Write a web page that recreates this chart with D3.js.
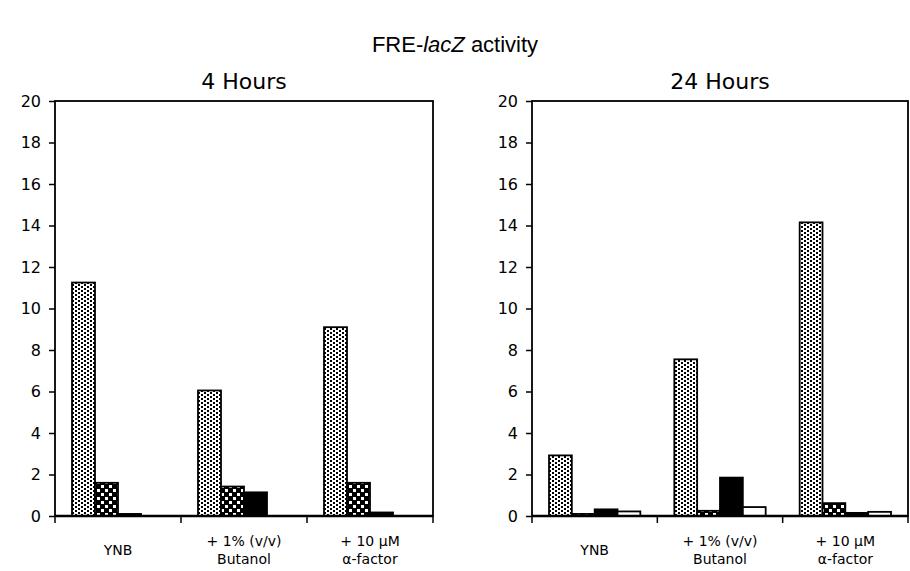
<!DOCTYPE html>
<html lang="en">
<head>
<meta charset="utf-8">
<script src="https://d3js.org/d3.v7.min.js"></script>
<style>
  body { margin: 0; background: #fff; }
  .axis text { font-family: "DejaVu Sans", sans-serif; font-size: 16px; fill: #000; }
  .axis line, .axis path { stroke: #000; stroke-width: 1.5px; }
</style>
</head>
<body>
<svg width="910" height="571"></svg>
<script>
  // data
  var categories = ["YNB", "Butanol", "alpha"];
  var catLabels = [["YNB"], ["+ 1% (v/v)", "Butanol"], ["+ 10 \u03BCM", "\u03B1-factor"]];
  var series = ["s1", "s2", "s3", "s4"];
  var hours4 = [
    [11.25, 1.6, 0.1, 0],
    [6.05, 1.42, 1.14, 0],
    [9.1, 1.6, 0.17, 0]
  ];
  var hours24 = [
    [2.92, 0.1, 0.32, 0.22],
    [7.55, 0.25, 1.85, 0.43],
    [14.15, 0.62, 0.15, 0.2]
  ];
  var yTicks = [0, 2, 4, 6, 8, 10, 12, 14, 16, 18, 20];

  var svg = d3.select("svg");
  var defs = svg.append("defs");

  // fine dots pattern (staggered)
  var p1 = defs.append("pattern").attr("id", "fine")
    .attr("patternUnits", "userSpaceOnUse").attr("width", 6).attr("height", 4);
  p1.append("rect").attr("width", 6).attr("height", 4).attr("fill", "#fff");
  p1.append("rect").attr("x", 0).attr("y", 0).attr("width", 2).attr("height", 2).attr("fill", "#000");
  p1.append("rect").attr("x", 3).attr("y", 2).attr("width", 2).attr("height", 2).attr("fill", "#000");

  // checker pattern
  var p2 = defs.append("pattern").attr("id", "check")
    .attr("patternUnits", "userSpaceOnUse").attr("width", 8).attr("height", 8);
  p2.append("rect").attr("width", 8).attr("height", 8).attr("fill", "#000");
  p2.append("rect").attr("x", 1).attr("y", 1).attr("width", 3).attr("height", 3).attr("fill", "#fff");
  p2.append("rect").attr("x", 5).attr("y", 5).attr("width", 3).attr("height", 3).attr("fill", "#fff");

  var fills = ["url(#fine)", "url(#check)", "#000", "#fff"];

  // main title
  var t = svg.append("text")
    .attr("x", 455).attr("y", 52)
    .attr("text-anchor", "middle")
    .attr("font-family", "Liberation Sans, sans-serif")
    .attr("font-size", "22px");
  t.append("tspan").text("FRE-");
  t.append("tspan").attr("font-style", "italic").text("lacZ");
  t.append("tspan").text(" activity");

  var plotTop = 101, plotBottom = 516;

  var y = d3.scaleLinear().domain([0, 20]).range([plotBottom, plotTop]);

  function panel(left, right, title, values) {
    var g = svg.append("g");

    var x0 = d3.scaleBand().domain(categories).range([left, right]);
    var bw = x0.bandwidth();
    var x1 = d3.scaleBand().domain(series).range([17, bw - 17]);

    g.append("text")
      .attr("x", (left + right) / 2).attr("y", 89)
      .attr("text-anchor", "middle")
      .attr("font-family", "DejaVu Sans, sans-serif")
      .attr("font-size", "22px")
      .text(title);

    // bars
    categories.forEach(function (c, ci) {
      g.selectAll(null)
        .data(values[ci].map(function (v, si) { return { s: series[si], v: v, i: si }; })
          .filter(function (d) { return d.v > 0; }))
        .enter().append("rect")
        .attr("x", function (d) { return x0(c) + x1(d.s); })
        .attr("y", function (d) { return y(d.v); })
        .attr("width", x1.bandwidth())
        .attr("height", function (d) { return plotBottom - y(d.v); })
        .attr("fill", function (d) { return fills[d.i]; })
        .attr("stroke", "#000")
        .attr("stroke-width", 1.8);
    });

    // frame
    g.append("rect")
      .attr("x", left).attr("y", plotTop)
      .attr("width", right - left).attr("height", plotBottom - plotTop)
      .attr("fill", "none").attr("stroke", "#000").attr("stroke-width", 1.8);
    g.append("line")
      .attr("x1", left).attr("x2", right).attr("y1", plotBottom).attr("y2", plotBottom)
      .attr("stroke", "#000").attr("stroke-width", 2.5);

    // y axis
    g.append("g").attr("class", "axis")
      .attr("transform", "translate(" + left + ",0)")
      .call(d3.axisLeft(y).tickValues(yTicks).tickSize(6).tickPadding(8))
      .call(function (a) { a.select(".domain").remove(); });

    // x ticks at category boundaries
    var bounds = categories.map(function (c) { return x0(c); }).concat([right]);
    g.selectAll(null).data(bounds).enter().append("line")
      .attr("x1", function (d) { return d; }).attr("x2", function (d) { return d; })
      .attr("y1", plotBottom).attr("y2", plotBottom + 7)
      .attr("stroke", "#000").attr("stroke-width", 1.5);

    // x labels
    categories.forEach(function (c, ci) {
      var lines = catLabels[ci];
      var tx = g.append("text")
        .attr("x", x0(c) + bw / 2)
        .attr("y", lines.length === 1 ? 555 : 546)
        .attr("text-anchor", "middle")
        .attr("font-family", "DejaVu Sans, sans-serif")
        .attr("font-size", "14px");
      lines.forEach(function (l, li) {
        tx.append("tspan").attr("x", x0(c) + bw / 2).attr("dy", li === 0 ? 0 : 18).text(l);
      });
    });
  }

  panel(55, 433, "4 Hours", hours4);
  panel(532, 908, "24 Hours", hours24);
</script>
</body>
</html>
